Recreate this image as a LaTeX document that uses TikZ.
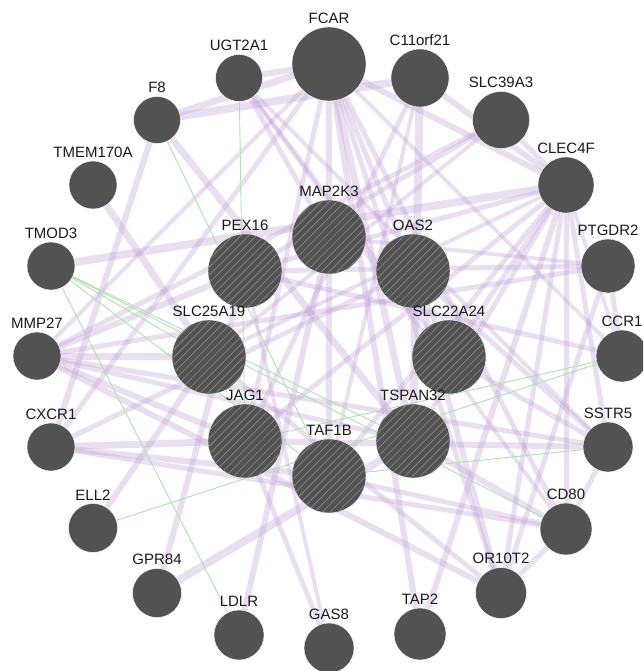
\documentclass[tikz,border=0pt]{standalone}
\usepackage{fontspec}
\setmainfont{Liberation Sans}
\usetikzlibrary{patterns.meta}
\definecolor{nodegray}{RGB}{82,82,82}
\definecolor{hatchgray}{RGB}{132,132,132}
\definecolor{edgepurple}{RGB}{185,150,210}
\definecolor{edgegreen}{RGB}{172,226,172}
\definecolor{labelink}{RGB}{25,25,25}
\pgfdeclarelayer{edges}
\pgfsetlayers{edges,main}
\newcommand\PE[3]{\draw[pedge,line width=#3pt] (#1) -- (#2);}
\newcommand\GE[2]{\draw[gedge] (#1) -- (#2);}
\tikzset{
  gene/.style={circle,fill=nodegray,draw=white,line width=0.4pt,inner sep=0pt,minimum size=2*#1 pt},
  query/.style={circle,fill=nodegray,draw=white,line width=0.4pt,inner sep=0pt,minimum size=74pt,
    postaction={pattern={Lines[angle=45,distance=5.5pt,line width=0.8pt]},pattern color=hatchgray}},
  lbl/.style={inner sep=0pt,label distance=3pt,text=labelink,font=\fontsize{15}{17}\selectfont},
  gl/.style={label={[lbl]above:{#1}}},
  pedge/.style={draw=edgepurple,draw opacity=0.3},
  gedge/.style={draw=edgegreen,line width=0.9pt}
}
\begin{document}
\begin{tikzpicture}[x=1pt,y=-1pt]
\useasboundingbox (0,0) rectangle (643,671);
\clip (0,0) rectangle (643,671);
% outer genes
\node[gene=37, gl=FCAR] (fcar) at (329,64) {};
\node[gene=23.5, gl=UGT2A1] (ugt) at (239,78) {};
\node[gene=29, gl=C11orf21] (c11) at (420,78) {};
\node[gene=23.5, gl=F8] (f8) at (157,120) {};
\node[gene=28.5, gl=SLC39A3] (slc39) at (501,120) {};
\node[gene=24, gl=TMEM170A] (tmem) at (93,185) {};
\node[gene=28, gl=CLEC4F] (clec) at (566,185) {};
\node[gene=24, gl=TMOD3] (tmod) at (51,266) {};
\node[gene=27, gl=PTGDR2] (ptg) at (608,266) {};
\node[gene=24, gl=MMP27] (mmp) at (37,356) {};
\node[gene=26, gl=CCR1] (ccr1) at (622,356) {};
\node[gene=24, gl=CXCR1] (cxcr1) at (51,447) {};
\node[gene=25, gl=SSTR5] (sstr5) at (608,447) {};
\node[gene=24.5, gl=ELL2] (ell2) at (93,528) {};
\node[gene=26, gl=CD80] (cd80) at (566,529) {};
\node[gene=24.5, gl=GPR84] (gpr84) at (157,593) {};
\node[gene=25.5, gl=OR10T2] (or10) at (501,593) {};
\node[gene=25, gl=LDLR] (ldlr) at (239,635) {};
\node[gene=26, gl=TAP2] (tap2) at (420,634) {};
\node[gene=25, gl=GAS8] (gas8) at (329,648) {};
% query genes
\node[query, gl=MAP2K3] (map) at (329,237) {};
\node[query, gl=PEX16] (pex) at (245,271) {};
\node[query, gl=OAS2] (oas) at (413,271) {};
\node[query, gl=SLC25A19] (s25) at (209,357) {};
\node[query, gl=SLC22A24] (s22) at (449,357) {};
\node[query, gl=JAG1] (jag) at (245,441) {};
\node[query, gl=TSPAN32] (tsp) at (413,441) {};
\node[query, gl=TAF1B] (taf) at (329,476) {};
\begin{pgfonlayer}{edges}
\PE{f8}{fcar}{7}
\PE{f8}{c11}{8}
\PE{f8}{tsp}{7}
\PE{f8}{cxcr1}{6}
\PE{ugt}{fcar}{6}
\PE{ugt}{map}{5}
\PE{ugt}{s22}{4}
\PE{ugt}{cd80}{4}
\PE{ugt}{sstr5}{4}
\PE{fcar}{clec}{6}
\PE{fcar}{cxcr1}{5}
\PE{fcar}{mmp}{4}
\PE{fcar}{taf}{6}
\PE{fcar}{tsp}{7}
\PE{fcar}{tap2}{6}
\PE{fcar}{or10}{5}
\PE{fcar}{cd80}{5}
\PE{fcar}{s22}{5}
\PE{fcar}{jag}{5}
\PE{fcar}{ccr1}{4}
\PE{c11}{tsp}{8}
\PE{c11}{clec}{6}
\PE{c11}{jag}{5}
\PE{c11}{taf}{4}
\PE{slc39}{mmp}{5}
\PE{slc39}{pex}{5}
\PE{slc39}{clec}{5}
\PE{slc39}{s25}{4}
\PE{tmem}{s25}{7}
\PE{tmod}{clec}{8}
\PE{mmp}{pex}{6}
\PE{mmp}{s25}{7}
\PE{mmp}{jag}{6}
\PE{mmp}{tsp}{5}
\PE{mmp}{ptg}{5}
\PE{cxcr1}{jag}{7}
\PE{cxcr1}{taf}{6}
\PE{cxcr1}{oas}{5}
\PE{ell2}{s25}{6}
\PE{gpr84}{pex}{6}
\PE{gpr84}{tsp}{8}
\PE{ldlr}{map}{6}
\PE{gas8}{jag}{5}
\PE{gas8}{pex}{4}
\PE{tap2}{clec}{6}
\PE{or10}{oas}{6}
\PE{or10}{ptg}{5}
\PE{or10}{mmp}{6}
\PE{or10}{s25}{5}
\PE{or10}{cd80}{5}
\PE{cd80}{cxcr1}{5}
\PE{cd80}{tsp}{6}
\PE{cd80}{taf}{5}
\PE{cd80}{sstr5}{5}
\PE{clec}{s22}{5}
\PE{clec}{tsp}{5}
\PE{clec}{taf}{5}
\PE{clec}{jag}{5}
\PE{clec}{or10}{5}
\PE{clec}{cd80}{5}
\PE{clec}{sstr5}{5}
\PE{clec}{pex}{5}
\PE{clec}{s25}{4}
\PE{clec}{ccr1}{4}
\PE{ptg}{pex}{5}
\PE{ptg}{map}{4}
\PE{ptg}{ccr1}{5}
\PE{ccr1}{pex}{5}
\PE{sstr5}{jag}{6}
\PE{sstr5}{s22}{5}
\PE{sstr5}{mmp}{5}
\PE{sstr5}{oas}{5}
\GE{ugt}{jag}
\GE{f8}{taf}
\GE{tmod}{ldlr}
\GE{tmod}{s25}
\GE{tmod}{taf}
\GE{tmod}{cd80}
\GE{tmod}{tsp}
\GE{ell2}{ccr1}
\GE{jag}{ccr1}
\GE{taf}{sstr5}
\end{pgfonlayer}
\end{tikzpicture}
\end{document}
